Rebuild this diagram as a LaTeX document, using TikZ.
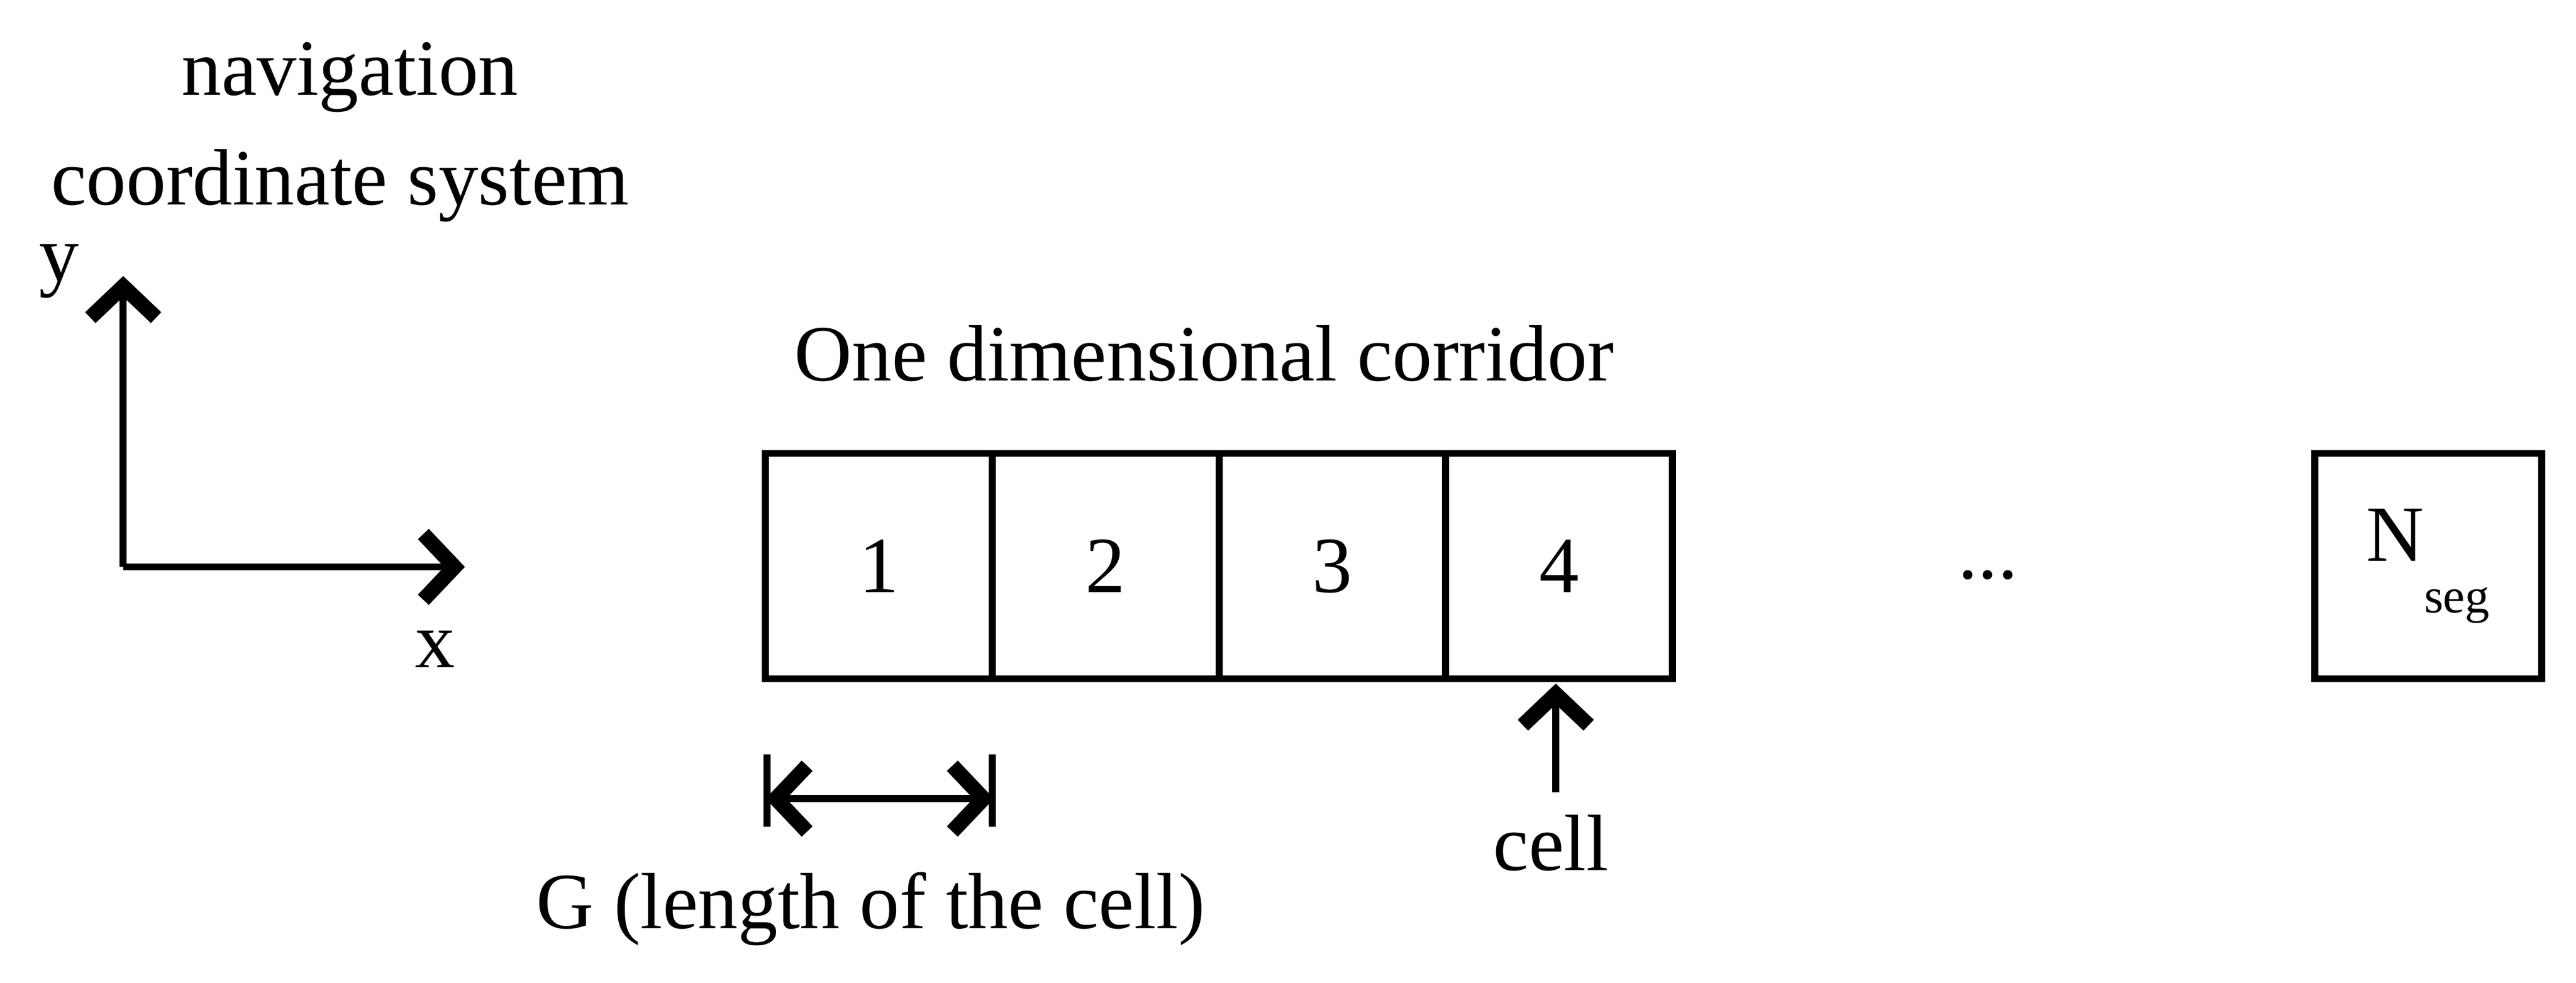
\documentclass[tikz,border=0pt]{standalone}
\usepackage{fontspec}
\setmainfont{Liberation Serif}
\usetikzlibrary{arrows.meta}
\begin{document}
\begin{tikzpicture}[x=0.01cm,y=-0.01cm,
  box/.style={draw,line width=1.2pt,minimum width=1.38cm,minimum height=1.37cm,inner sep=0pt,outer sep=0pt,font=\fontsize{13.8}{16}\selectfont},
  lbl/.style={font=\fontsize{13.8}{16}\selectfont,inner sep=0pt},
  tip/.tip={Straight Barb[length=0.19cm,width=0.40cm,line width=2.6pt]},
  chev/.style={line width=1.2pt,-tip}]
\useasboundingbox (0,0) rectangle (1568,598);
\node[box] (c1) at (535,344.5) {1};
\node[box] (c2) at (673,344.5) {2};
\node[box] (c3) at (811,344.5) {3};
\node[box] (c4) at (949,344.5) {4};
\node[box] (cn) at (1478,344.5) {N\raisebox{-1.4ex}{\fontsize{8.5}{9}\selectfont seg}};
\node[lbl] (dots) at (1210,350) {...};
\node[lbl] (title) at (733,215) {One dimensional corridor};
\node[lbl] (nav) at (213,47) {navigation};
\node[lbl] (cs) at (207,113) {coordinate system};
\coordinate (o) at (75,345);
\coordinate (ye) at (75,168);
\coordinate (xe) at (283,345);
\draw[chev] (o) -- (ye);
\draw[chev] (o) -- (xe);
\node[lbl] (yl) at (36,165) {y};
\node[lbl] (xl) at (265,395) {x};
\coordinate (gl) at (466,486);
\coordinate (gr) at (605,486);
\draw[line width=1.2pt] (467,459) -- (467,503);
\draw[line width=1.2pt] (604,459) -- (604,503);
\draw[line width=1.2pt,tip-tip] (gl) -- (gr);
\node[lbl] (gt) at (530,553) {G (length of the cell)};
\coordinate (cb) at (947,482);
\coordinate (ct) at (947,416);
\draw[chev] (cb) -- (ct);
\node[lbl] (cell) at (944,513) {cell};
\end{tikzpicture}
\end{document}
